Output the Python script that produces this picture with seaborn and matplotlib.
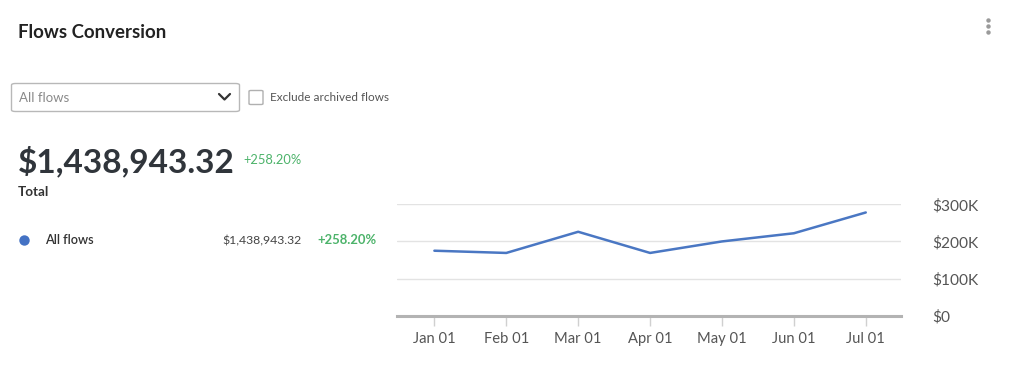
import matplotlib
matplotlib.use("Agg")
import matplotlib.pyplot as plt
import seaborn as sns
import pandas as pd
from matplotlib.patches import FancyBboxPatch
from matplotlib.lines import Line2D
from matplotlib.ticker import FuncFormatter

# ---- data ----
months = ["Jan 01", "Feb 01", "Mar 01", "Apr 01", "May 01", "Jun 01", "Jul 01"]
conversion = [175000, 169000, 226000, 169000, 200000, 222000, 278000]
y_ticks = [0, 100000, 200000, 300000]
title = "Flows Conversion"
total_value = "$1,438,943.32"
total_change = "+258.20%"
series_name = "All flows"

sns.set_theme(style="white")
plt.rcParams["font.family"] = ["Lato", "DejaVu Sans"]

W, H = 1024, 386
fig = plt.figure(figsize=(W / 100, H / 100), dpi=100)
fig.patch.set_facecolor("white")

def fx(x):
    return x / W

def fy(y):
    return 1 - y / H

def px(p):
    return p * 0.72

# ---- chart axes ----
ax = fig.add_axes([fx(397), fy(315.7), fx(901 - 397), (315.7 - 204.3) / H])
df = pd.DataFrame({"month": months, "value": conversion})
df["pos"] = range(len(months))
sns.lineplot(data=df, x="pos", y="value", ax=ax, color="#4a77c3", linewidth=1.8)
ax.set_xlim(-0.52, 6.49)
ax.set_ylim(0, 300000)
ax.set_xticks(df["pos"])
ax.set_xticklabels(months)
ax.set_yticks(y_ticks)
ax.yaxis.set_major_formatter(FuncFormatter(lambda v, p: "$0" if v == 0 else f"${int(v/1000)}K"))
ax.yaxis.tick_right()
ax.set_xlabel("")
ax.set_ylabel("")
for s in ["top", "left", "right"]:
    ax.spines[s].set_visible(False)
ax.spines["bottom"].set_color("#b3b3b3")
ax.spines["bottom"].set_linewidth(2.2)
ax.grid(axis="y", color="#e3e3e3", linewidth=1)
ax.grid(axis="x", visible=False)
ax.set_axisbelow(True)
ax.tick_params(axis="x", bottom=True, length=7, width=1, color="#d0d0d0",
               labelsize=px(14.8), labelcolor="#555555", pad=5)
ax.tick_params(axis="y", right=True, length=0, labelsize=px(15.5),
               labelcolor="#555555", pad=px(31.5))
ax.set_facecolor("white")

def dot(x, y, size, color):
    fig.lines.append(Line2D([fx(x)], [fy(y)], transform=fig.transFigure,
                            marker="o", markersize=size, color=color,
                            markeredgewidth=0, linestyle="none"))

# ---- header text ----
fig.text(fx(18), fy(33), title, fontsize=px(18.6), fontweight="bold",
         color="#222222", va="center", ha="left")
for yy in [20, 26, 31.5]:
    dot(988, yy, 3.2, "#9a9a9a")

# dropdown
box = FancyBboxPatch((fx(11.5), fy(111.5)), fx(228), (111.5 - 83.5) / H,
                     boxstyle="round,pad=0,rounding_size=0.004",
                     transform=fig.transFigure, facecolor="white",
                     edgecolor="#b8b8b8", linewidth=1)
fig.patches.append(box)
fig.text(fx(19), fy(97.5), series_name, fontsize=px(13.2), color="#8a8a8a",
         va="center", ha="left")
fig.lines.append(Line2D([fx(219), fx(224.5), fx(230)], [fy(94), fy(99.5), fy(94)],
                        transform=fig.transFigure, color="#333333", linewidth=1.6))
# checkbox
fig.patches.append(FancyBboxPatch((fx(249), fy(104.5)), fx(14), 14 / H,
                                  boxstyle="round,pad=0,rounding_size=0.002",
                                  transform=fig.transFigure, facecolor="white",
                                  edgecolor="#b0b0b0", linewidth=1))
fig.text(fx(270), fy(97.5), "Exclude archived flows", fontsize=px(11.8),
         color="#555555", va="center", ha="left")

# total
fig.text(fx(18), fy(161), total_value, fontsize=px(33.4), fontweight="bold",
         color="#30353b", va="center", ha="left")
fig.text(fx(243), fy(160.5), total_change, fontsize=px(12.9), color="#4cb36a",
         va="center", ha="left")
fig.text(fx(18), fy(191.5), "Total", fontsize=px(13.5), fontweight="bold",
         color="#333333", va="center", ha="left")

# legend row
dot(23.5, 240, 7.5, "#4472c4")
fig.text(fx(45), fy(240.5), series_name, fontsize=px(12.8), fontweight="semibold",
         color="#333333", va="center", ha="left")
fig.text(fx(302), fy(240.5), total_value, fontsize=px(12.3), color="#444444",
         va="center", ha="right")
fig.text(fx(377), fy(240.5), total_change, fontsize=px(13), fontweight="bold",
         color="#4cb36a", va="center", ha="right")

fig.savefig("out.png", dpi=100, facecolor="white")
